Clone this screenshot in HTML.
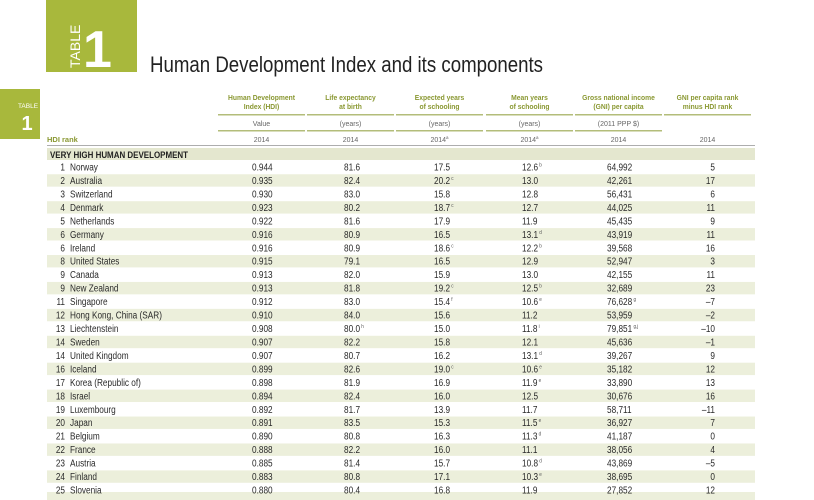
<!DOCTYPE html>
<html><head><meta charset="utf-8"><style>
html,body{margin:0;padding:0;background:#fff;}
svg{display:block;font-family:"Liberation Sans",Arial,sans-serif;}
</style></head><body>
<svg id="tbl" width="814" height="500" viewBox="0 0 814 500" xmlns="http://www.w3.org/2000/svg">
<rect x="46" y="0" width="91" height="72" fill="#a8b83c"/>
<text x="0" y="0" transform="translate(80,68) rotate(-90)" font-size="14" fill="#fff">TABLE</text>
<text x="83" y="67" font-size="52" font-weight="bold" fill="#fff">1</text>
<text x="150" y="72" font-size="22" fill="#222" textLength="393" lengthAdjust="spacingAndGlyphs">Human Development Index and its components</text>
<rect x="0" y="89" width="40" height="50" fill="#a8b83c"/>
<text x="28" y="108" font-size="6.5" fill="#fff" text-anchor="middle">TABLE</text>
<text x="27" y="130" font-size="20" font-weight="bold" fill="#fff" text-anchor="middle">1</text>
<g id="hdr"></g>
<rect x="47" y="148" width="708" height="12" fill="#e4e7cf"/>
<text x="50" y="158" font-size="9" font-weight="bold" fill="#222" textLength="138" lengthAdjust="spacingAndGlyphs">VERY HIGH HUMAN DEVELOPMENT</text>
<rect x="47" y="492" width="708" height="8" fill="#ecefdb"/>
<g id="rows"></g>
</svg>
<script>
const ranks=[1,2,3,4,5,6,6,8,9,9,11,12,13,14,14,16,17,18,19,20,21,22,23,24,25];
const countries=["Norway","Australia","Switzerland","Denmark","Netherlands","Germany","Ireland","United States","Canada","New Zealand","Singapore","Hong Kong, China (SAR)","Liechtenstein","Sweden","United Kingdom","Iceland","Korea (Republic of)","Israel","Luxembourg","Japan","Belgium","France","Austria","Finland","Slovenia"];
const hdi=["0.944","0.935","0.930","0.923","0.922","0.916","0.916","0.915","0.913","0.913","0.912","0.910","0.908","0.907","0.907","0.899","0.898","0.894","0.892","0.891","0.890","0.888","0.885","0.883","0.880"];
const life=["81.6","82.4","83.0","80.2","81.6","80.9","80.9","79.1","82.0","81.8","83.0","84.0","80.0|h","82.2","80.7","82.6","81.9","82.4","81.7","83.5","80.8","82.2","81.4","80.8","80.4"];
const expYears=["17.5","20.2|c","15.8","18.7|c","17.9","16.5","18.6|c","16.5","15.9","19.2|c","15.4|f","15.6","15.0","15.8","16.2","19.0|c","16.9","16.0","13.9","15.3","16.3","16.0","15.7","17.1","16.8"];
const meanYears=["12.6|b","13.0","12.8","12.7","11.9","13.1|d","12.2|b","12.9","13.0","12.5|b","10.6|e","11.2","11.8|i","12.1","13.1|d","10.6|e","11.9|e","12.5","11.7","11.5|e","11.3|d","11.1","10.8|d","10.3|e","11.9"];
const gni=["64,992","42,261","56,431","44,025","45,435","43,919","39,568","52,947","42,155","32,689","76,628|g","53,959","79,851|g,j","45,636","39,267","35,182","33,890","30,676","58,711","36,927","41,187","38,056","43,869","38,695","27,852"];
const gniRank=["5","17","6","11","9","11","16","3","11","23","–7","–2","–10","–1","9","12","13","16","–11","7","0","4","–5","0","12"];
const headers=[["Human Development","Index (HDI)","Value","2014"],["Life expectancy","at birth","(years)","2014"],["Expected years","of schooling","(years)","2014|a"],["Mean years","of schooling","(years)","2014|a"],["Gross national income","(GNI) per capita","(2011 PPP $)","2014"],["GNI per capita rank","minus HDI rank","","2014"]];
const NS="http://www.w3.org/2000/svg";
const colL=[218,307,396,486,575,664], colW=87;
const valX=[252,344,434,522,607];
function rowY(i){return 167+i*13.46;}
function mk(tag,attrs,parent){const e=document.createElementNS(NS,tag);for(const k in attrs)e.setAttribute(k,attrs[k]);parent.appendChild(e);return e;}
function txtSup(parent,x,y,val,anchor){
  const p=val.split("|");
  const t=mk("text",{x:0,y:0,transform:"translate("+x+","+y+") scale(0.84,1)","font-size":"9.8",fill:"#2a2a2a","text-anchor":anchor||"start"},parent);
  t.textContent=p[0];
  if(p[1]){const s=mk("tspan",{"font-size":"5.5",dy:"-4",fill:"#555"},t);s.textContent=" "+p[1];}
  return t;
}
const hdr=document.getElementById("hdr");
headers.forEach((h,c)=>{
  const cx=colL[c]+colW/2;
  const g=mk("g",{},hdr);
  
  
  let t=mk("text",{x:0,y:0,transform:"translate("+cx+",100) scale(0.9,1)","font-size":"7.5","font-weight":"bold",fill:"#8a9832","text-anchor":"middle"},g);t.textContent=h[0];
  t=mk("text",{x:0,y:0,transform:"translate("+cx+",109) scale(0.9,1)","font-size":"7.5","font-weight":"bold",fill:"#8a9832","text-anchor":"middle"},g);t.textContent=h[1];
  mk("rect",{x:colL[c],y:114,width:colW,height:1.5,fill:"#b3bd7a"},g);
  if(c<5){t=mk("text",{x:cx,y:126,"font-size":"7",fill:"#666","text-anchor":"middle"},g);t.textContent=h[2];
    mk("rect",{x:colL[c],y:130,width:colW,height:1.5,fill:"#b3bd7a"},g);}
  const p=h[3].split("|");
  t=mk("text",{x:cx,y:142,"font-size":"7",fill:"#666","text-anchor":"middle"},g);t.textContent=p[0];
  if(p[1]){const s=mk("tspan",{"font-size":"4.5",dy:"-3"},t);s.textContent=p[1];}
});
let hr=mk("text",{x:47,y:142,"font-size":"7.5","font-weight":"bold",fill:"#8a9832"},hdr);hr.textContent="HDI rank";


mk("rect",{x:47,y:145,width:708,height:0.8,fill:"#999"},hdr);
const rows=document.getElementById("rows");
countries.forEach((name,i)=>{
  const y=rowY(i);
  const g=mk("g",{},rows);
  
  
  if(i%2===1){mk("rect",{x:47,y:y-6.2,width:708,height:12.4,fill:"#ecefdb"},g);}
  const by=y+3.5;
  txtSup(g,65,by,String(ranks[i]),"end");
  txtSup(g,70,by,name);
  txtSup(g,valX[0],by,hdi[i]);
  txtSup(g,valX[1],by,life[i]);
  txtSup(g,valX[2],by,expYears[i]);
  txtSup(g,valX[3],by,meanYears[i]);
  txtSup(g,valX[4],by,gni[i]);
  txtSup(g,715,by,gniRank[i],"end");
});
</script>
</body></html>
